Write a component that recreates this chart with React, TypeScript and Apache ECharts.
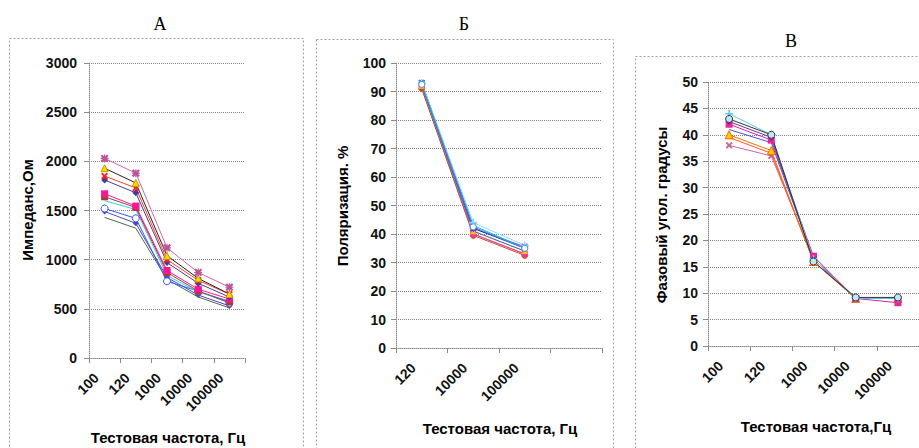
import React, { useEffect, useRef } from "react";
import * as echarts from "echarts";

// ---- Panel A: impedance ----
const catsA = ["100", "120", "1000", "10000", "100000"];
const a1 = [2030, 1880, 1120, 870, 720];
const a2 = [1930, 1780, 1040, 810, 650];
const a3 = [1850, 1730, 1000, 790, 650];
const a4 = [1810, 1680, 970, 760, 620];
const a5 = [1670, 1545, 890, 700, 600];
const a6 = [1640, 1530, 870, 680, 570];
const a7 = [1600, 1510, 840, 670, 580];
const a8 = [1520, 1420, 780, 680, 560];
const a9 = [1490, 1370, 820, 640, 530];
const a10 = [1430, 1320, 800, 620, 510];

// ---- Panel Б: polarization ----
const catsB = ["120", "10000", "100000", ""];
const b1 = [93, 42, 35];
const b2 = [92, 40, 33];
const b3 = [92, 41, 34];
const b4 = [93, 43, 35];
const b5 = [93, 42, 35.5];
const b6 = [91, 39.5, 32.5];
const b7 = [92, 41, 34];
const b8 = [91, 40, 33];
const b9 = [93, 44, 36];
const b10 = [92.5, 42.5, 35];

// ---- Panel В: phase angle ----
const catsC = ["100", "120", "1000", "10000", "100000"];
const c1 = [44, 40, 16.5, 9, 9];
const c2 = [43, 40, 16, 9.2, 9.2];
const c3 = [42.5, 39.5, 16.5, 9, 9];
const c4 = [42, 39, 17, 9, 8.2];
const c5 = [41, 38.5, 16.5, 9, 9];
const c6 = [40, 37, 16, 9, 9];
const c7 = [39.5, 36.5, 16, 9, 9];
const c8 = [38, 36, 16.5, 9, 9];

const X_SYM = "path://M2,0L5,3L8,0L10,2L7,5L10,8L8,10L5,7L2,10L0,8L3,5L0,2Z";
const STAR_SYM = "path://M2,0L4.3,2.3V0H5.7V2.3L8,0L10,2L7.7,4.3H10V5.7H7.7L10,8L8,10L5.7,7.7V10H4.3V7.7L2,10L0,8L2.3,5.7H0V4.3H2.3L0,2Z";
const PLUS_SYM = "path://M4,0H6V4H10V6H6V10H4V6H0V4H4Z";

const FONT = "'Liberation Sans', Arial, sans-serif";

type Sty = { line: string; symbol: string; fill: string; border?: string; size?: number };

function mk(name: string, data: number[], idx: number, s: Sty) {
  return {
    name,
    type: "line",
    xAxisIndex: idx,
    yAxisIndex: idx,
    data,
    symbol: s.symbol,
    symbolSize: s.size ?? 6,
    showSymbol: s.symbol !== "none",
    lineStyle: { color: s.line, width: 1 },
    itemStyle: { color: s.fill, borderColor: s.border ?? s.fill, borderWidth: s.border ? 1 : 0 },
  };
}

const gridLine = { show: true, lineStyle: { color: "#8a8080", type: "dotted", width: 1 } };
const axLine = { show: true, lineStyle: { color: "#8a8a8a", type: "dotted", width: 1 } };

function xAx(idx: number, data: string[]) {
  return {
    type: "category",
    gridIndex: idx,
    data,
    boundaryGap: true,
    axisLine: axLine,
    axisTick: { show: true, interval: 0, length: 5, lineStyle: { color: "#8a8a8a" } },
    axisLabel: {
      interval: 0,
      rotate: 45,
      margin: 9,
      fontSize: 14,
      fontWeight: "bold",
      padding: [0, 12, 0, 0],
      color: "#111",
      fontFamily: FONT,
    },
    splitLine: { show: false },
  };
}

function yAx(idx: number, max: number, interval: number, margin: number, fs: number) {
  return {
    type: "value",
    gridIndex: idx,
    min: 0,
    max,
    interval,
    axisLine: axLine,
    axisTick: { show: true, length: 5, lineStyle: { color: "#8a8a8a" } },
    axisLabel: {
      margin,
      fontSize: fs,
      fontWeight: "bold",
      color: "#111",
      fontFamily: FONT,
      formatter: (v: number) => String(v),
    },
    splitLine: gridLine,
  };
}

function title(text: string, x: number, y: number) {
  return {
    type: "text",
    x,
    y,
    style: { text, align: "center", verticalAlign: "middle", font: "18px 'Liberation Serif', 'Times New Roman', serif", fill: "#000" },
  };
}

function axName(text: string, x: number, y: number, vertical: boolean) {
  return {
    type: "text",
    x,
    y,
    rotation: vertical ? Math.PI / 2 : 0,
    style: { text, align: "center", verticalAlign: "middle", font: `bold 15px ${FONT}`, fill: "#000" },
  };
}

function box(x: number, y: number, w: number, h: number) {
  return {
    type: "rect",
    shape: { x, y, width: w, height: h },
    style: { fill: "none", stroke: "#a0a0a0", lineWidth: 1, lineDash: [2, 2] },
    silent: true,
  };
}

export default function App() {
  const ref = useRef<HTMLDivElement>(null);
  useEffect(() => {
    if (!ref.current) return;
    const chart = echarts.init(ref.current, undefined, { renderer: "svg" });
    const option = {
      animation: false,
      backgroundColor: "#fff",
      grid: [
        { left: 89, top: 63, width: 156, height: 295 },
        { left: 396, top: 63, width: 206, height: 285 },
        { left: 708, top: 82, width: 216, height: 264 },
      ],
      xAxis: [xAx(0, catsA), xAx(1, catsB), xAx(2, catsC)],
      yAxis: [yAx(0, 3000, 500, 12, 14), yAx(1, 100, 10, 10, 14), yAx(2, 50, 5, 10, 14)],
      graphic: [
        box(9.5, 38.5, 294, 430),
        box(316.5, 39.5, 297, 430),
        box(635.5, 56.5, 300, 430),
        title("А", 160, 24),
        title("Б", 464, 24),
        title("В", 791, 41),
        axName("Импеданс,Ом", 27, 210, true),
        axName("Тестовая частота, Гц", 168, 437, false),
        axName("Поляризация. %", 342, 206, true),
        axName("Тестовая частота, Гц", 500, 428, false),
        axName("Фазовый угол. градусы", 661, 215, true),
        axName("Тестовая частота,Гц", 816, 426, false),
      ],
      series: [
        mk("A10", a10, 0, { line: "#4a6a4a", symbol: "none", fill: "#4a6a4a" }),
        mk("A9", a9, 0, { line: "#5544bb", symbol: "diamond", fill: "#5544bb", size: 6 }),
        mk("A8", a8, 0, { line: "#3355ff", symbol: "circle", fill: "#ffffff", border: "#3355ff", size: 7 }),
        mk("A7", a7, 0, { line: "#33ccee", symbol: "none", fill: "#33ccee" }),
        mk("A6", a6, 0, { line: "#994433", symbol: "rect", fill: "#994433", size: 7 }),
        mk("A5", a5, 0, { line: "#ff1493", symbol: "rect", fill: "#ff1493", size: 7 }),
        mk("A4", a4, 0, { line: "#4a3a99", symbol: "diamond", fill: "#4a3a99", size: 7 }),
        mk("A3", a3, 0, { line: "#ff4422", symbol: X_SYM, fill: "#ff2222", size: 7 }),
        mk("A2", a2, 0, { line: "#222222", symbol: "triangle", fill: "#ffd700", border: "#cc9900", size: 7 }),
        mk("A1", a1, 0, { line: "#cc66aa", symbol: STAR_SYM, fill: "#bb5599", size: 8 }),

        mk("B8", b8, 1, { line: "#ff6633", symbol: "none", fill: "#ff6633" }),
        mk("B6", b6, 1, { line: "#aa5533", symbol: "circle", fill: "#aa5533", border: "#cc6644", size: 6 }),
        mk("B2", b2, 1, { line: "#ff3399", symbol: "rect", fill: "#ff3399", size: 6 }),
        mk("B3", b3, 1, { line: "#ffcc00", symbol: "triangle", fill: "#ffcc00", size: 6 }),
        mk("B7", b7, 1, { line: "#3366cc", symbol: "none", fill: "#3366cc" }),
        mk("B5", b5, 1, { line: "#9933cc", symbol: STAR_SYM, fill: "#9933cc", size: 7 }),
        mk("B1", b1, 1, { line: "#333399", symbol: "diamond", fill: "#333399", size: 7 }),
        mk("B4", b4, 1, { line: "#00bbee", symbol: X_SYM, fill: "#00bbee", size: 6 }),
        mk("B9", b9, 1, { line: "#99d4ff", symbol: PLUS_SYM, fill: "#99d4ff", size: 8 }),
        mk("B10", b10, 1, { line: "#3399dd", symbol: "circle", fill: "#ffffff", border: "#3399dd", size: 6 }),

        mk("C8", c8, 2, { line: "#cc6699", symbol: X_SYM, fill: "#cc6699", size: 7 }),
        mk("C7", c7, 2, { line: "#ff5522", symbol: "none", fill: "#ff5522" }),
        mk("C6", c6, 2, { line: "#ff6600", symbol: "triangle", fill: "#ffcc00", border: "#ff6600", size: 8 }),
        mk("C5", c5, 2, { line: "#4455cc", symbol: "none", fill: "#4455cc" }),
        mk("C4", c4, 2, { line: "#dd2299", symbol: "rect", fill: "#ee2299", size: 7 }),
        mk("C3", c3, 2, { line: "#6633aa", symbol: "diamond", fill: "#6633aa", size: 7 }),
        mk("C1", c1, 2, { line: "#55ccee", symbol: PLUS_SYM, fill: "#55ccee", size: 8 }),
        mk("C2", c2, 2, { line: "#333333", symbol: "circle", fill: "#bfe8f5", border: "#333333", size: 7 }),
      ],
    };
    chart.setOption(option as any);
    return () => chart.dispose();
  }, []);
  return <div ref={ref} style={{ position: "fixed", left: 0, top: 0, width: 919, height: 448 }} />;
}
